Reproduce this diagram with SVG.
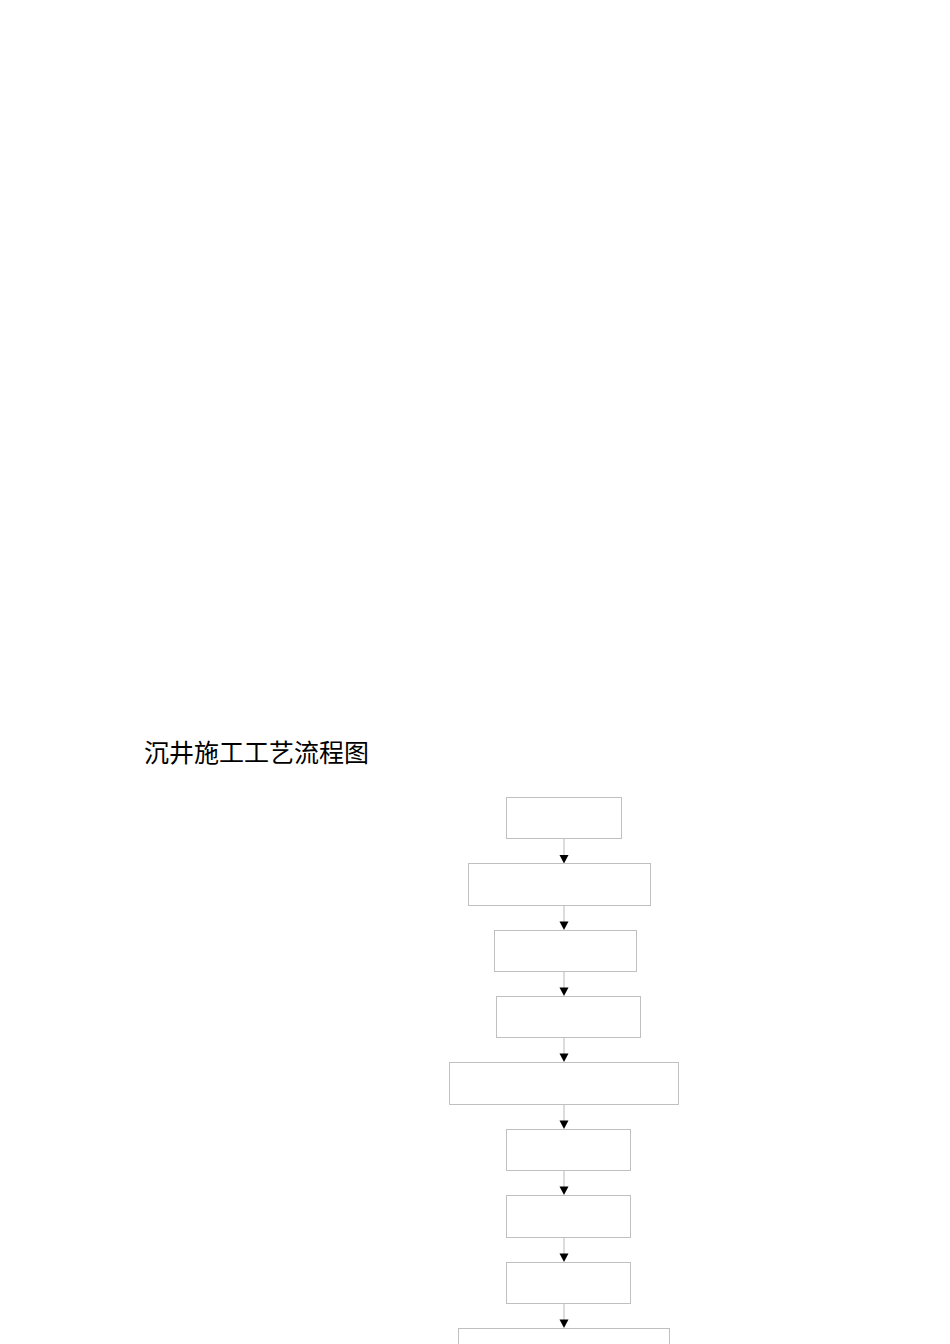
<svg xmlns="http://www.w3.org/2000/svg" width="950" height="1344" viewBox="0 0 950 1344">
<style>
.box{fill:#fff;stroke:#c0c0c0;stroke-width:1}
.ln{stroke:#b8b8b8;stroke-width:1;fill:none}
.hd{fill:#000}
.title{font-family:"Noto Sans CJK SC","Noto Sans CJK JP",sans-serif;font-size:25px;fill:#000}
</style>
<rect width="950" height="1344" fill="#fff"/>
<text class="title" x="144" y="762">沉井施工工艺流程图</text>
<g id="connectors">
<line class="ln" x1="564" y1="838.5" x2="564" y2="856"/><polygon class="hd" points="559.5,855 568.5,855 564,863.5"/>
<line class="ln" x1="564" y1="905.5" x2="564" y2="922"/><polygon class="hd" points="559.5,921.5 568.5,921.5 564,930"/>
<line class="ln" x1="564" y1="971.5" x2="564" y2="988"/><polygon class="hd" points="559.5,987.5 568.5,987.5 564,996"/>
<line class="ln" x1="564" y1="1037.5" x2="564" y2="1054"/><polygon class="hd" points="559.5,1053.5 568.5,1053.5 564,1062"/>
<line class="ln" x1="564" y1="1104.5" x2="564" y2="1121"/><polygon class="hd" points="559.5,1120.5 568.5,1120.5 564,1129"/>
<line class="ln" x1="564" y1="1170.5" x2="564" y2="1187"/><polygon class="hd" points="559.5,1186.5 568.5,1186.5 564,1195"/>
<line class="ln" x1="564" y1="1237.5" x2="564" y2="1254"/><polygon class="hd" points="559.5,1253.5 568.5,1253.5 564,1262"/>
<line class="ln" x1="564" y1="1303.5" x2="564" y2="1320"/><polygon class="hd" points="559.5,1319.5 568.5,1319.5 564,1328"/>
</g>
<g id="n1"><rect class="box" x="506.5" y="797.5" width="115" height="41"/></g>
<g id="n2"><rect class="box" x="468.5" y="863.5" width="182" height="42"/></g>
<g id="n3"><rect class="box" x="494.5" y="930.5" width="142" height="41"/></g>
<g id="n4"><rect class="box" x="496.5" y="996.5" width="144" height="41"/></g>
<g id="n5"><rect class="box" x="449.5" y="1062.5" width="229" height="42"/></g>
<g id="n6"><rect class="box" x="506.5" y="1129.5" width="124" height="41"/></g>
<g id="n7"><rect class="box" x="506.5" y="1195.5" width="124" height="42"/></g>
<g id="n8"><rect class="box" x="506.5" y="1262.5" width="124" height="41"/></g>
<g id="n9"><rect class="box" x="458.5" y="1328.5" width="211" height="30"/></g>
</svg>
